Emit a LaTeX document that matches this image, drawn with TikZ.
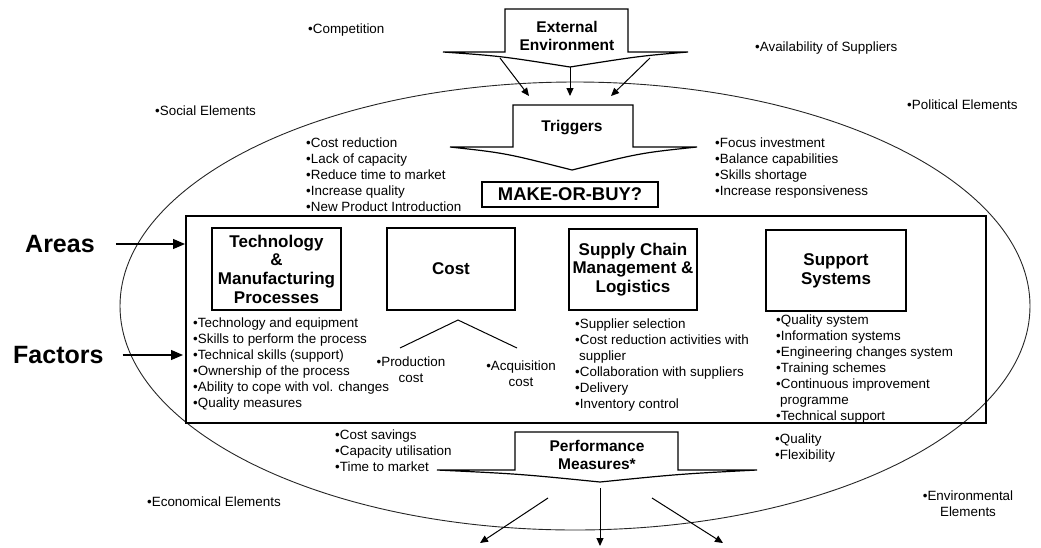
\documentclass[tikz,border=0pt]{standalone}
\usepackage{fontspec}
\setmainfont{Liberation Sans}
\usetikzlibrary{arrows.meta}
\tikzset{
  sm/.style={font=\fontsize{13.4}{16}\selectfont, inner sep=0pt, align=left, anchor=north west},
  smc/.style={font=\fontsize{13.4}{16}\selectfont, inner sep=0pt, align=center, anchor=north},
  lone/.style={font=\fontsize{13.4}{16}\selectfont, inner sep=0pt, anchor=west},
  hdr/.style={font=\bfseries\fontsize{15.5}{18}\selectfont, inner sep=0pt, align=center},
  areabox/.style={draw, line width=1.3pt, font=\bfseries\fontsize{17}{18.7}\selectfont, align=center, inner sep=0pt},
  biglbl/.style={font=\bfseries\fontsize{25}{28}\selectfont, inner sep=0pt, anchor=west},
  shp/.style={draw, line width=1.2pt, line join=miter},
  arr/.style={line width=1pt, -{Triangle[length=8pt,width=7pt]}},
  bigarr/.style={line width=1.2pt, -{Triangle[length=12pt,width=10pt]}},
}
\begin{document}
\begin{tikzpicture}[x=1pt,y=-1pt]
\useasboundingbox (0,0) rectangle (1041,547);
% environment ellipse
\draw[line width=0.9pt, black!85] (575,306) ellipse [x radius=455pt, y radius=224pt];

% External environment arrow shape
\draw[shp] (443,52) -- (505,52) -- (505,9) -- (628,9) -- (628,52) -- (688,52)
  .. controls (640,56) .. (570,67) .. controls (500,56) .. cycle;
\node[hdr] (ext) at (567,36) {External\\Environment};
\coordinate (e1) at (500,58); \coordinate (e2) at (570,67); \coordinate (e3) at (650,58);
\coordinate (t1) at (529,96); \coordinate (t2) at (570,96); \coordinate (t3) at (611,96);
\draw[arr] (e1) -- (t1);
\draw[arr] (e2) -- (t2);
\draw[arr] (e3) -- (t3);

% Triggers arrow shape
\draw[shp] (450,147) -- (513,147) -- (513,105) -- (633,105) -- (633,147) -- (697,147)
  .. controls (640,153) .. (572,170) .. controls (505,153) .. cycle;
\node[hdr] (trig) at (572,128) {Triggers};

\node[sm] (tl) at (306,138) {•Cost reduction\\•Lack of capacity\\•Reduce time to market\\•Increase quality\\•New Product Introduction};
\node[sm] (tr) at (715,138) {•Focus investment\\•Balance capabilities\\•Skills shortage\\•Increase responsiveness};

\node[draw, line width=1.3pt, minimum width=176pt, minimum height=25pt, inner sep=0pt,
  font=\bfseries\fontsize{18.4}{20}\selectfont] (mob) at (570,194.5) {MAKE-OR-BUY?};

% outer labels
\node[lone] (comp) at (308,30) {•Competition};
\node[lone] (avail) at (755,48) {•Availability of Suppliers};
\node[lone] (soc) at (155,111) {•Social Elements};
\node[lone] (pol) at (907,105) {•Political Elements};
\node[lone] (eco) at (147,502) {•Economical Elements};
\node[smc] (env) at (968,491) {•Environmental\\Elements};

% main frame
\node[draw, line width=1.5pt, minimum width=800pt, minimum height=207pt, anchor=north west, inner sep=0pt] (frame) at (185,215) {};

% area boxes
\node[areabox, minimum width=129pt, minimum height=82pt] (tech) at (276.5,269) {Technology\\\&\\Manufacturing\\Processes};
\node[areabox, minimum width=128pt, minimum height=82pt] (cost) at (451,269) {Cost};
\node[areabox, minimum width=128pt, minimum height=81pt] (scm) at (633,269.5) {Supply Chain\\Management \&\\Logistics};
\node[areabox, minimum width=140pt, minimum height=81pt] (sup) at (836,270.5) {Support\\Systems};

% factors
\node[sm] (tf) at (193,318) {•Technology and equipment\\•Skills to perform the process\\•Technical skills (support)\\•Ownership of the process\\•Ability to cope with vol. changes\\•Quality measures};
\coordinate (c0) at (458,320); \coordinate (cl) at (400,348); \coordinate (cr) at (517,348);
\draw[line width=1pt] (cl) -- (c0) -- (cr);
\node[smc] (pc) at (411,357) {•Production\\cost};
\node[smc] (ac) at (521,361) {•Acquisition\\cost};
\node[sm] (sf) at (575,319) {•Supplier selection\\•Cost reduction activities with\\\hspace*{4pt}supplier\\•Collaboration with suppliers\\•Delivery\\•Inventory control};
\node[sm] (ssf) at (776,315) {•Quality system\\•Information systems\\•Engineering changes system\\•Training schemes\\•Continuous improvement\\\hspace*{4pt}programme\\•Technical support};

% Areas / Factors
\node[biglbl] (areas) at (25,244) {Areas};
\node[biglbl] (factors) at (13,355) {Factors};
\draw[bigarr] ([xshift=21pt]areas.east) -- (areas.east -| frame.west);
\draw[bigarr, shorten >=2pt] ([xshift=19pt]factors.east) -- (factors.east -| frame.west);

% Performance measures
\draw[shp] (437,470) -- (515,470) -- (515,432) -- (678,432) -- (678,470) -- (757,470)
  .. controls (680,474) .. (600,482) .. controls (520,474) .. cycle;
\node[hdr] (perf) at (597,455) {Performance\\Measures*};
\node[sm] (pl) at (335,430) {•Cost savings\\•Capacity utilisation\\•Time to market};
\node[sm] (pr) at (775,434) {•Quality\\•Flexibility};
\coordinate (p1) at (548,498); \coordinate (p2) at (600,488); \coordinate (p3) at (652,498);
\coordinate (q1) at (480,543); \coordinate (q2) at (600,546); \coordinate (q3) at (723,543);
\draw[arr] (p1) -- (q1);
\draw[arr] (p2) -- (q2);
\draw[arr] (p3) -- (q3);
\end{tikzpicture}
\end{document}
